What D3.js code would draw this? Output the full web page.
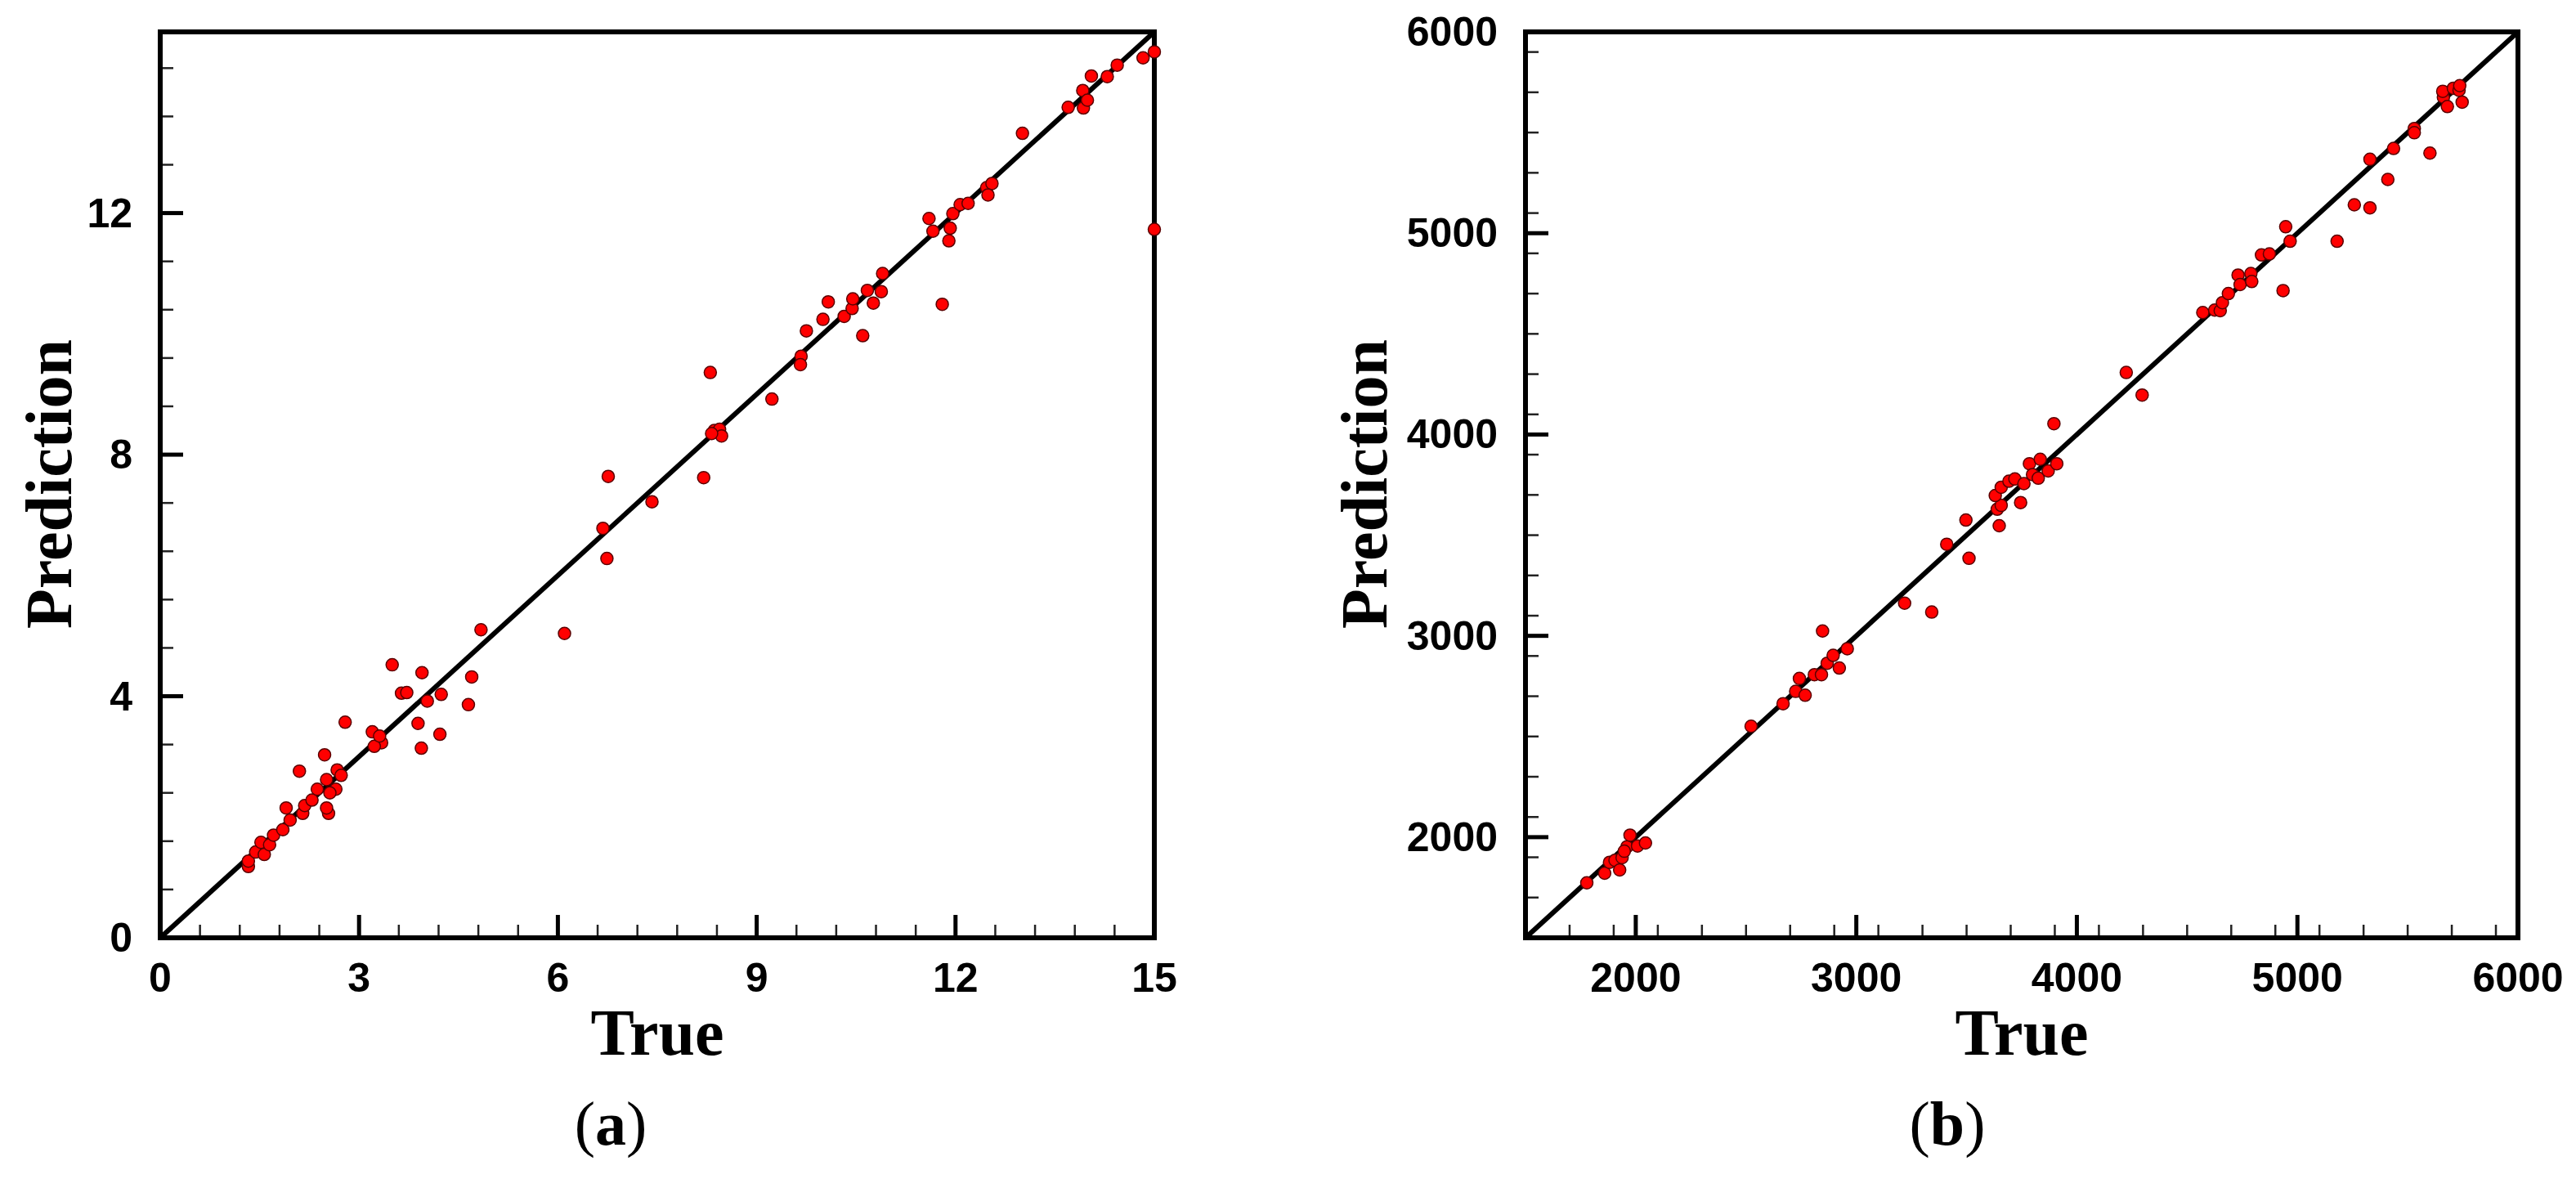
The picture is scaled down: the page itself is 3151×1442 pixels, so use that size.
<!DOCTYPE html>
<html>
<head>
<meta charset="utf-8">
<script src="https://cdn.jsdelivr.net/npm/d3@7"></script>
<style>
  body { margin: 0; background: #fff; }
  svg { display: block; }
  .tick-label { font-family: "Liberation Sans Narrow", "Liberation Sans", Arial, sans-serif; font-weight: bold; font-size: 50px; }
  .title { font-family: "Liberation Serif", "Times New Roman", serif; font-weight: bold; font-size: 80px; }
  .panel { font-family: "Liberation Serif", "Times New Roman", serif; font-size: 76px; }
</style>
</head>
<body>
<div id="chart"></div>
<script>
// panel (a)
const trueA = [1.33, 1.33, 1.44, 1.52, 1.57, 1.65, 1.71, 1.85, 1.96, 1.90, 2.10, 2.15, 2.18, 2.29, 2.37, 2.51, 2.54, 2.51, 2.65, 2.56,
  2.48, 2.67, 2.73, 2.79, 3.20, 3.34, 3.23, 3.31, 3.50, 3.64, 3.72, 3.89, 3.94, 3.95, 4.03, 4.22, 4.24, 4.65, 4.70, 4.84,
  6.10, 6.74, 6.68, 6.76, 7.42, 8.20, 8.30, 8.36, 8.44, 8.47, 8.32, 9.23, 9.67, 9.66, 9.75, 10.00, 10.08, 10.32, 10.44, 10.45,
  10.60, 10.67, 10.76, 10.88, 10.90, 11.80, 11.60, 11.66, 11.90, 11.92, 11.96, 12.07, 12.19, 12.47, 12.55, 12.49, 13.01, 13.70, 13.93, 13.92,
  13.99, 14.05, 14.29, 14.44, 14.83, 15.00, 15.00];
const predA = [1.18, 1.27, 1.42, 1.58, 1.38, 1.54, 1.70, 1.79, 1.95, 2.15, 2.76, 2.06, 2.19, 2.28, 2.46, 2.62, 2.06, 2.15, 2.46, 2.40,
  3.03, 2.78, 2.69, 3.57, 3.41, 3.23, 3.17, 3.34, 4.52, 4.05, 4.06, 3.55, 3.14, 4.39, 3.92, 3.37, 4.03, 3.86, 4.32, 5.10,
  5.04, 6.28, 6.78, 7.64, 7.22, 7.62, 9.36, 8.40, 8.42, 8.31, 8.35, 8.92, 9.63, 9.49, 10.05, 10.24, 10.53, 10.29, 10.42, 10.58,
  9.97, 10.72, 10.51, 10.70, 11.00, 10.49, 11.91, 11.70, 11.54, 11.75, 11.99, 12.14, 12.16, 12.42, 12.49, 12.30, 13.32, 13.75, 13.74, 14.03,
  13.87, 14.27, 14.26, 14.45, 14.57, 14.67, 11.73];

// panel (b)
const trueB = [1778, 1859, 1881, 1906, 1927, 1938, 1960, 1974, 2008, 2044, 1948, 2523, 2668, 2725, 2742, 2768, 2810, 2842, 2847, 2868,
  2895, 2923, 2959, 3219, 3342, 3410, 3511, 3497, 3648, 3639, 3657, 3630, 3745, 3657, 3692, 3719, 3760, 3785, 3799, 3834,
  3825, 3870, 3909, 3896, 4224, 4296, 4571, 4625, 4650, 4660, 4687, 4731, 4740, 4789, 4793, 4837, 4873, 4935, 4947, 4967,
  5180, 5258, 5329, 5329, 5410, 5436, 5530, 5530, 5601, 5662, 5659, 5680, 5707, 5733, 5736, 5747];
const predB = [1773, 1821, 1875, 1885, 1837, 1898, 1952, 2010, 1956, 1971, 1930, 2551, 2663, 2724, 2788, 2705, 2807, 2807, 3024, 2864,
  2903, 2840, 2936, 3162, 3118, 3455, 3385, 3575, 3547, 3629, 3648, 3697, 3662, 3738, 3768, 3779, 3756, 3855, 3801, 3877,
  3783, 3819, 3855, 4054, 4308, 4196, 4606, 4618, 4615, 4655, 4700, 4792, 4745, 4800, 4760, 4892, 4897, 4715, 5032, 4960,
  4960, 5141, 5126, 5367, 5267, 5421, 5520, 5499, 5398, 5675, 5705, 5629, 5720, 5710, 5733, 5651];

const ticksA = [0, 3, 6, 9, 12, 15];
const yTicksA = [0, 4, 8, 12];
const ticksB = [2000, 3000, 4000, 5000, 6000];

const svg = d3.select('#chart').append('svg').attr('width', 3151).attr('height', 1442);

function drawPanel(cfg) {
    const x = d3.scaleLinear().domain(cfg.domain).range([cfg.left, cfg.right]);
    const y = d3.scaleLinear().domain(cfg.domain).range([cfg.bottom, cfg.top]);
    const g = svg.append('g');

    // minor ticks
    const xMinor = d3.range(cfg.domain[0], cfg.domain[1] + 1e-9, cfg.xMinor);
    const yMinor = d3.range(cfg.domain[0], cfg.domain[1] + 1e-9, cfg.yMinor);
    g.selectAll('.xm').data(xMinor).enter().append('line')
        .attr('x1', d => x(d)).attr('x2', d => x(d))
        .attr('y1', cfg.bottom).attr('y2', cfg.bottom - 16)
        .attr('stroke', '#222').attr('stroke-width', 2.5);
    g.selectAll('.ym').data(yMinor).enter().append('line')
        .attr('y1', d => y(d)).attr('y2', d => y(d))
        .attr('x1', cfg.left).attr('x2', cfg.left + 16)
        .attr('stroke', '#222').attr('stroke-width', 2.5);
    // major ticks
    g.selectAll('.xM').data(cfg.xTicks).enter().append('line')
        .attr('x1', d => x(d)).attr('x2', d => x(d))
        .attr('y1', cfg.bottom).attr('y2', cfg.bottom - 28)
        .attr('stroke', '#000').attr('stroke-width', 5);
    g.selectAll('.yM').data(cfg.yTicks).enter().append('line')
        .attr('y1', d => y(d)).attr('y2', d => y(d))
        .attr('x1', cfg.left).attr('x2', cfg.left + 28)
        .attr('stroke', '#000').attr('stroke-width', 5);

    g.selectAll('.xl').data(cfg.xTicks).enter().append('text')
        .attr('class', 'tick-label').attr('x', d => x(d)).attr('y', 1213)
        .attr('text-anchor', 'middle').text(d => d);
    g.selectAll('.yl').data(cfg.yTicks).enter().append('text')
        .attr('class', 'tick-label').attr('x', cfg.left - 34).attr('y', d => y(d) + 17)
        .attr('text-anchor', 'end').text(d => d);

    // frame
    g.append('rect').attr('x', cfg.left).attr('y', cfg.top)
        .attr('width', cfg.right - cfg.left).attr('height', cfg.bottom - cfg.top)
        .attr('fill', 'none').attr('stroke', '#000').attr('stroke-width', 6);

    // y = x line
    g.append('line')
        .attr('x1', x(cfg.domain[0])).attr('y1', y(cfg.domain[0]))
        .attr('x2', x(cfg.domain[1])).attr('y2', y(cfg.domain[1]))
        .attr('stroke', '#000').attr('stroke-width', 6);

    g.selectAll('circle').data(cfg.xs).enter().append('circle')
        .attr('cx', d => x(d)).attr('cy', (d, i) => y(cfg.ys[i]))
        .attr('r', 7.5).attr('fill', '#f00')
        .attr('stroke', '#5a0000').attr('stroke-width', 1.5);

    g.append('text').attr('class', 'title')
        .attr('x', (cfg.left + cfg.right) / 2).attr('y', 1290)
        .attr('text-anchor', 'middle').text('True');
    g.append('text').attr('class', 'title')
        .attr('transform', `translate(${cfg.labelX},592) rotate(-90)`)
        .attr('text-anchor', 'middle').attr('dy', '0.35em').text('Prediction');
    const p = g.append('text').attr('class', 'panel')
        .attr('x', cfg.panelX).attr('y', 1400).attr('text-anchor', 'middle');
    p.append('tspan').text('(');
    p.append('tspan').attr('font-weight', 'bold').text(cfg.panel);
    p.append('tspan').text(')');
}

drawPanel({domain: [0, 15], left: 196, right: 1412, top: 39, bottom: 1147,
    xTicks: ticksA, yTicks: yTicksA, xMinor: 0.6, yMinor: 0.8,
    xs: trueA, ys: predA, labelX: 59, panelX: 747, panel: 'a'});
drawPanel({domain: [1500, 6000], left: 1866, right: 3080, top: 39, bottom: 1147,
    xTicks: ticksB, yTicks: ticksB, xMinor: 200, yMinor: 200,
    xs: trueB, ys: predB, labelX: 1668, panelX: 2382, panel: 'b'});
</script>
</body>
</html>
